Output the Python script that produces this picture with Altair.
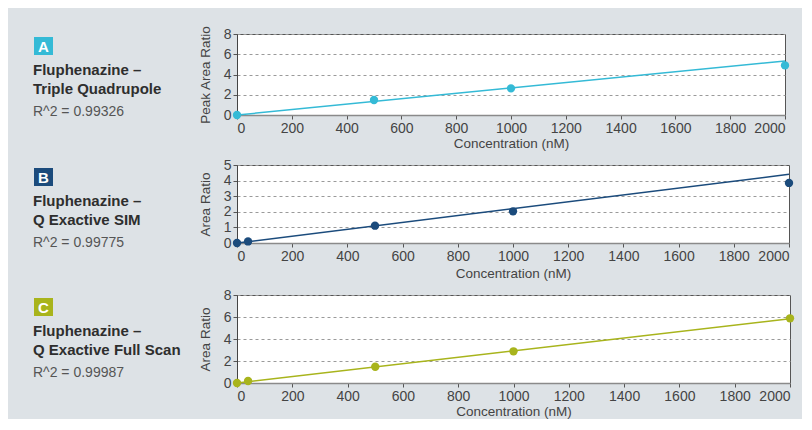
import altair as alt
import pandas as pd

# ---- data ----
conc_a = [0, 500, 1000, 2000]
ratio_a = [0.0, 1.48, 2.63, 4.9]
conc_b = [0, 40, 500, 1000, 2000]
ratio_b = [0.0, 0.1, 1.11, 2.03, 3.85]
conc_c = [0, 40, 500, 1000, 2000]
ratio_c = [0.0, 0.18, 1.48, 2.88, 5.88]

fit_x = [0, 2000]
fit_a = [0.0, 5.33]
fit_b = [0.0, 4.4]
fit_c = [0.0, 5.85]

letters = ["A", "B", "C"]
title1 = ["Fluphenazine –", "Fluphenazine –", "Fluphenazine –"]
title2 = ["Triple Quadrupole", "Q Exactive SIM", "Q Exactive Full Scan"]
r2_text = ["R^2 = 0.99326", "R^2 = 0.99775", "R^2 = 0.99987"]
y_titles = ["Peak Area Ratio", "Area Ratio", "Area Ratio"]
y_max = [8, 5, 8]
y_ticks = [[0, 2, 4, 6, 8], [0, 1, 2, 3, 4, 5], [0, 2, 4, 6, 8]]
x_ticks = [0, 200, 400, 600, 800, 1000, 1200, 1400, 1600, 1800, 2000]
x_title = "Concentration (nM)"
colors = ["#34bad6", "#1b4b7c", "#a8b41c"]

FONT = "Liberation Sans"
AX = dict(labelFont=FONT, titleFont=FONT, labelFontSize=14, titleFontSize=13.5,
          labelColor="#444", titleColor="#444", titleFontWeight="normal",
          tickColor="#555", tickSize=4, labelPadding=2)


def panel(i, conc, ratio, fit, width, height, x_title_pad):
    pts = pd.DataFrame({"c": conc, "r": ratio})
    fit_df = pd.DataFrame({"c": fit_x, "r": fit})
    info = pd.DataFrame({"letter": [letters[i]], "t1": [title1[i]],
                         "t2": [title2[i]], "r2": [r2_text[i]]})

    x = alt.X("c:Q", scale=alt.Scale(domain=[0, 2000], nice=False, zero=False),
              axis=alt.Axis(values=x_ticks, title=x_title, grid=False, format="d",
                            domainColor="#8a8a8a", domainWidth=1.5,
                            titlePadding=x_title_pad, **AX))
    y = alt.Y("r:Q", scale=alt.Scale(domain=[0, y_max[i]], nice=False),
              axis=alt.Axis(values=y_ticks[i], title=y_titles[i], grid=True, format="d",
                            gridDash=[3, 3], gridColor="#9a9a9a",
                            domainColor="#444", titlePadding=11, **AX))

    line = alt.Chart(fit_df).mark_line(color=colors[i], strokeWidth=1.5).encode(x=x, y=y)
    points = alt.Chart(pts).mark_circle(size=70, opacity=1, color=colors[i]).encode(x=x, y=y)

    badge = alt.Chart(info).mark_rect(color=colors[i]).encode(
        x=alt.value(-203), x2=alt.value(-184), y=alt.value(3), y2=alt.value(21))
    badge_txt = alt.Chart(info).mark_text(
        color="white", fontWeight="bold", fontSize=15, font=FONT,
        align="center", baseline="middle").encode(
        x=alt.value(-193.5), y=alt.value(12.5), text="letter:N")
    t1 = alt.Chart(info).mark_text(
        color="#2e2e2e", fontWeight="bold", fontSize=15, font=FONT,
        align="left", baseline="middle").encode(
        x=alt.value(-204), y=alt.value(36), text="t1:N")
    t2 = alt.Chart(info).mark_text(
        color="#2e2e2e", fontWeight="bold", fontSize=15, font=FONT,
        align="left", baseline="middle").encode(
        x=alt.value(-204), y=alt.value(55), text="t2:N")
    r2 = alt.Chart(info).mark_text(
        color="#555", fontSize=14, font=FONT,
        align="left", baseline="middle").encode(
        x=alt.value(-204), y=alt.value(78), text="r2:N")

    return alt.layer(line, points, badge, badge_txt, t1, t2, r2).properties(
        width=width, height=height)


pa = panel(0, conc_a, ratio_a, fit_a, 548, 81, 1)
pb = panel(1, conc_b, ratio_b, fit_b, 552, 78, 3)
pc = panel(2, conc_c, ratio_c, fit_c, 553, 88, 1)

chart = alt.vconcat(pa, pb, pc, spacing=7).properties(
    padding={"left": 24, "top": 16, "right": 7, "bottom": 1},
    background="#dde2e6",
).configure_view(
    fill="white", stroke="#555", strokeWidth=1
)

chart.save("out.html", embed_options={"renderer": "svg", "actions": False})
